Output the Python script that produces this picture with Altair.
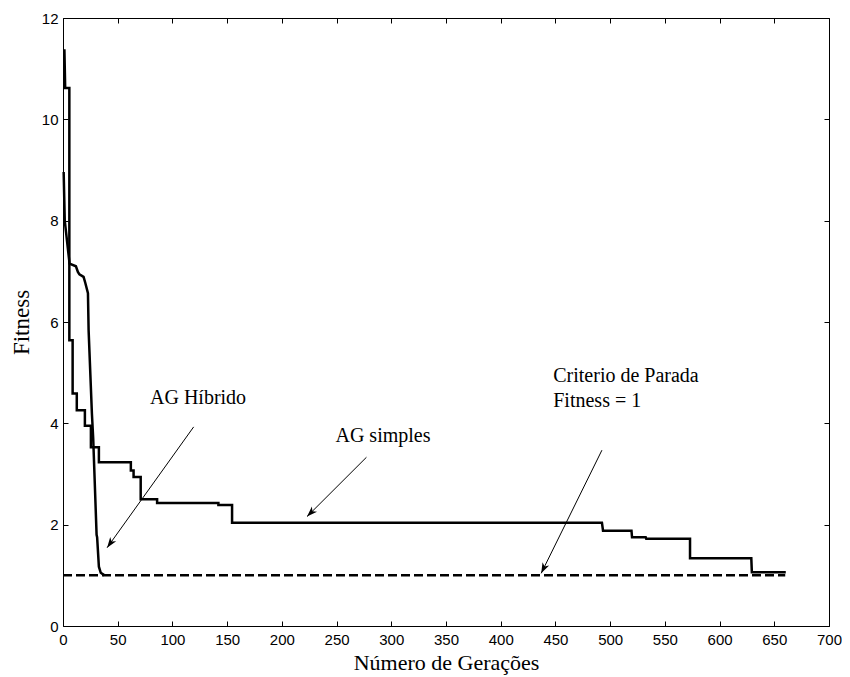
import math
import altair as alt
import pandas as pd

# ---------------- data ----------------
simples_gen = [0.6, 1.3, 2.0, 5.8, 5.8, 8.8, 8.8, 12.6, 12.6, 20.0, 20.0, 25.5, 25.5,
               32.8, 32.8, 62.0, 62.0, 64.5, 64.5, 71.0, 71.0, 86.0, 86.0, 142.0, 142.0,
               154.5, 154.5, 492.5, 493.5, 519.5, 520.0, 532.5, 533.0, 573.0, 573.0,
               629.0, 629.5, 660.5]
simples_fit = [11.36, 11.36, 10.62, 10.62, 5.64, 5.64, 4.59, 4.59, 4.26, 4.26, 3.95, 3.95, 3.53,
               3.53, 3.23, 3.23, 3.07, 3.07, 2.94, 2.94, 2.50, 2.50, 2.43, 2.43, 2.39,
               2.39, 2.04, 2.04, 1.88, 1.88, 1.75, 1.75, 1.72, 1.72, 1.335,
               1.335, 1.06, 1.06]

hibrido_gen = [0.6, 1.6, 6.0, 11.8, 13.6, 15.0, 18.8, 20.4, 22.8, 23.4, 26.4, 27.6,
               30.7, 31.2, 32.8, 34.5, 38.0]
hibrido_fit = [8.96, 8.0, 7.15, 7.10, 6.99, 6.94, 6.89, 6.77, 6.57, 5.84, 4.20, 3.70,
               1.80, 1.75, 1.17, 1.05, 1.00]

criterio_gen = [0, 660]
criterio_fit = [1.0, 1.0]

x_ticks = list(range(0, 701, 50))
y_ticks = list(range(0, 13, 2))

label_text = ["AG Híbrido", "AG simples", "Criterio de Parada", "Fitness = 1"]
label_gen = [79.5, 249.0, 448.0, 448.0]
label_fit = [4.39, 3.64, 4.82, 4.33]

arrow_gen0 = [119.4, 277.3, 492.5]
arrow_fit0 = [3.93, 3.33, 3.47]
arrow_gen1 = [40.3, 223.0, 437.0]
arrow_fit1 = [1.545, 2.16, 1.04]

# ---------------- chart ----------------
W, H = 766, 608
XMAX, YMAX = 700, 12

df_s = pd.DataFrame({"gen": simples_gen, "fit": simples_fit, "i": range(len(simples_gen))})
df_h = pd.DataFrame({"gen": hibrido_gen, "fit": hibrido_fit, "i": range(len(hibrido_gen))})
df_c = pd.DataFrame({"gen": criterio_gen, "fit": criterio_fit, "i": range(len(criterio_gen))})
df_t = pd.DataFrame({"gen": label_gen, "fit": label_fit, "txt": label_text})

angles = []
for g0, f0, g1, f1 in zip(arrow_gen0, arrow_fit0, arrow_gen1, arrow_fit1):
    dx = (g1 - g0) * W / XMAX
    dy = -(f1 - f0) * H / YMAX
    angles.append(math.degrees(math.atan2(dx, -dy)) % 360)
df_a = pd.DataFrame({"g0": arrow_gen0, "f0": arrow_fit0, "g1": arrow_gen1,
                     "f1": arrow_fit1, "ang": angles})

xs = alt.Scale(domain=[0, XMAX], nice=False, zero=False)
ys = alt.Scale(domain=[0, YMAX], nice=False, zero=False)

main_x = alt.Axis(values=x_ticks, title="Número de Gerações", ticks=False, tickSize=0,
                  domain=False, grid=False, labelPadding=6, titlePadding=5,
                  labelFlush=False, labelOverlap=False)
main_y = alt.Axis(values=y_ticks, title="Fitness", ticks=False, tickSize=0,
                  domain=False, grid=False, labelPadding=5, titlePadding=8,
                  titleFontSize=23, labelFlush=False, labelOverlap=False)

def tick_axis(orient, offset, vals):
    return alt.Axis(orient=orient, offset=offset, values=vals, labels=False,
                    domain=False, grid=False, ticks=True, tickSize=5, title=None)

simples = alt.Chart(df_s).mark_line(color="black", strokeWidth=2.5, strokeJoin="miter").encode(
    x=alt.X("gen:Q", scale=xs, axis=main_x),
    y=alt.Y("fit:Q", scale=ys, axis=main_y),
    order=alt.Order("i:Q"),
)

hibrido = alt.Chart(df_h).mark_line(color="black", strokeWidth=2.5).encode(
    x=alt.X("gen:Q", scale=xs, axis=tick_axis("top", -H, x_ticks)),
    y=alt.Y("fit:Q", scale=ys, axis=tick_axis("right", -W, y_ticks)),
    order=alt.Order("i:Q"),
)

criterio = alt.Chart(df_c).mark_line(color="black", strokeWidth=2.5, strokeDash=[9, 4]).encode(
    x=alt.X("gen:Q", scale=xs, axis=tick_axis("bottom", -H, x_ticks)),
    y=alt.Y("fit:Q", scale=ys, axis=tick_axis("left", -W, y_ticks)),
    order=alt.Order("i:Q"),
)

shafts = alt.Chart(df_a).mark_rule(color="black", strokeWidth=1).encode(
    x=alt.X("g0:Q", scale=xs, axis=None),
    y=alt.Y("f0:Q", scale=ys, axis=None),
    x2="g1:Q",
    y2="f1:Q",
)

heads = alt.Chart(df_a).mark_point(
    shape="M0,0 L-0.7,2 L0,1.45 L0.7,2 Z", filled=True, color="black",
    size=110, opacity=1, strokeWidth=0.5,
).encode(
    x=alt.X("g1:Q", scale=xs, axis=None),
    y=alt.Y("f1:Q", scale=ys, axis=None),
    angle=alt.Angle("ang:Q", scale=None),
)

labels = alt.Chart(df_t).mark_text(
    font="Liberation Serif", fontSize=20, color="black", align="left", baseline="alphabetic"
).encode(
    x=alt.X("gen:Q", scale=xs, axis=None),
    y=alt.Y("fit:Q", scale=ys, axis=None),
    text="txt:N",
)

chart = alt.layer(simples, hibrido, criterio, shafts, heads, labels).resolve_axis(
    x="independent", y="independent"
).properties(
    width=W, height=H,
    background="white",
    autosize=alt.AutoSizeParams(type="none"),
    padding={"left": 55, "top": 10, "right": 13, "bottom": 50},
).configure_view(
    stroke="black", strokeWidth=1
).configure_axis(
    labelFont="Liberation Sans", labelFontSize=15, labelColor="black",
    titleFont="Liberation Serif", titleFontSize=22, titleFontWeight="normal",
    titleColor="black", tickColor="black", tickWidth=1,
)

chart.save("out.html", embed_options={"renderer": "svg", "actions": False})
